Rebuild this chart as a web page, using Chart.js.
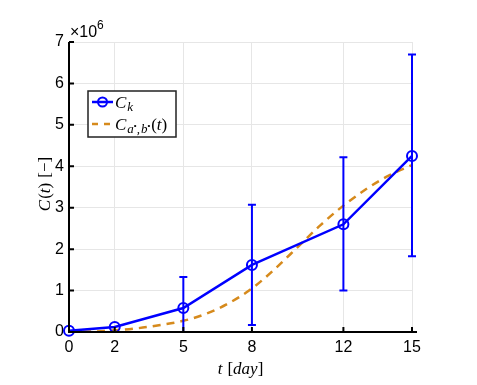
<!DOCTYPE html>
<html>
<head>
<meta charset="utf-8">
<script src="https://cdn.jsdelivr.net/npm/chart.js@4"></script>
<style>
  html, body { margin: 0; padding: 0; background: #fff; }
  #wrap { width: 477px; height: 385px; }
</style>
</head>
<body>
<div id="wrap"><canvas id="c"></canvas></div>
<script>
// measured points (value of C in units of 1e6)
const days = [0, 2, 5, 8, 12, 15];
const meanC = [0.03, 0.12, 0.58, 1.62, 2.60, 4.25];
const errLow = [0.03, 0.12, -0.2, 0.17, 1.00, 1.83];
const errHigh = [0.03, 0.12, 1.33, 3.07, 4.22, 6.70];

// fitted curve
const fitT = [0, 1, 2, 3, 4, 5, 6, 7, 8, 9, 10, 11, 12, 13, 14, 15];
const fitC = [0.0, 0.01, 0.04, 0.09, 0.17, 0.27, 0.44, 0.70, 1.05, 1.52, 2.05, 2.58, 3.05, 3.45, 3.78, 4.03];

const xTicks = [0, 2, 5, 8, 12, 15];
const yTicks = [0, 1, 2, 3, 4, 5, 6, 7];

const BLUE = '#0000ff';
const ORANGE = '#d68a1c';

// draws a list of [text, font, dy, extraGap] pieces one after another
function drawRuns(ctx, runs, x, y) {
  let cx = x;
  runs.forEach(r => {
    ctx.font = r[1];
    ctx.fillText(r[0], cx, y + (r[2] || 0));
    cx += ctx.measureText(r[0]).width + (r[3] || 0);
  });
  return cx;
}
function runsWidth(ctx, runs) {
  let w = 0;
  runs.forEach(r => { ctx.font = r[1]; w += ctx.measureText(r[0]).width + (r[3] || 0); });
  return w;
}

const SERIF_I = 'italic 17px "Liberation Serif"';
const SERIF = '17px "Liberation Serif"';

const extras = {
  id: 'extras',
  afterDatasetsDraw(chart) {
    const ctx = chart.ctx;
    const xs = chart.scales.x, ys = chart.scales.y, a = chart.chartArea;
    // error bars
    ctx.save();
    ctx.beginPath();
    ctx.rect(a.left, a.top - 5, a.right - a.left + 5, a.bottom - a.top + 5);
    ctx.clip();
    ctx.strokeStyle = BLUE;
    ctx.lineWidth = 2;
    days.forEach((d, i) => {
      if (errHigh[i] - errLow[i] < 0.1) return;
      const px = xs.getPixelForValue(d);
      const y1 = ys.getPixelForValue(errLow[i]);
      const y2 = ys.getPixelForValue(errHigh[i]);
      ctx.beginPath();
      ctx.moveTo(px, y1); ctx.lineTo(px, y2);
      ctx.moveTo(px - 4, y1); ctx.lineTo(px + 4, y1);
      ctx.moveTo(px - 4, y2); ctx.lineTo(px + 4, y2);
      ctx.stroke();
    });
    ctx.restore();
  },
  afterDraw(chart) {
    const ctx = chart.ctx;
    const xs = chart.scales.x, ys = chart.scales.y, a = chart.chartArea;
    ctx.save();
    // axis lines and inward ticks
    ctx.strokeStyle = '#000';
    ctx.lineWidth = 2;
    ctx.beginPath();
    ctx.moveTo(a.left, a.top); ctx.lineTo(a.left, a.bottom);
    ctx.lineTo(a.right + 5, a.bottom);
    xTicks.forEach(t => {
      const px = xs.getPixelForValue(t);
      ctx.moveTo(px, a.bottom); ctx.lineTo(px, a.bottom - 5);
    });
    yTicks.forEach(t => {
      const py = ys.getPixelForValue(t);
      ctx.moveTo(a.left, py); ctx.lineTo(a.left + 5, py);
    });
    ctx.stroke();

    ctx.fillStyle = '#000';
    ctx.textBaseline = 'alphabetic';
    // exponent label
    ctx.font = '16px "Liberation Sans"';
    ctx.fillText('\u00d710', a.left + 1, a.top - 5);
    ctx.font = '12px "Liberation Sans"';
    ctx.fillText('6', a.left + 28, a.top - 13);

    // x title: t [day]
    const xt = [['t', SERIF_I, 0, 5], ['[', SERIF], ['day', SERIF_I], [']', SERIF]];
    const cxm = (a.left + a.right) / 2;
    drawRuns(ctx, xt, cxm - runsWidth(ctx, xt) / 2, 374);

    // y title: C(t) [-]
    const yt = [['C', SERIF_I, 0, 1], ['(', SERIF], ['t', SERIF_I], [')', SERIF, 0, 5], ['[', SERIF], ['\u2212', SERIF], [']', SERIF]];
    ctx.save();
    ctx.translate(50, (a.top + a.bottom) / 2 - 3);
    ctx.rotate(-Math.PI / 2);
    drawRuns(ctx, yt, -runsWidth(ctx, yt) / 2, 0);
    ctx.restore();

    // legend box
    const bx = 88, by = 91, bw = 88, bh = 46;
    ctx.fillStyle = '#fff';
    ctx.fillRect(bx, by, bw, bh);
    ctx.strokeStyle = '#222';
    ctx.lineWidth = 1.5;
    ctx.strokeRect(bx, by, bw, bh);
    // entry 1
    const y1 = by + 11;
    ctx.strokeStyle = BLUE; ctx.lineWidth = 2.5;
    ctx.beginPath(); ctx.moveTo(bx + 4, y1); ctx.lineTo(bx + 25, y1); ctx.stroke();
    ctx.lineWidth = 2;
    ctx.beginPath(); ctx.arc(bx + 14.5, y1, 4.5, 0, Math.PI * 2); ctx.stroke();
    ctx.fillStyle = '#000';
    drawRuns(ctx, [['C', SERIF_I, 0, 1], ['k', 'italic 13px "Liberation Serif"', 3]], bx + 27, y1 + 6);
    // entry 2
    const y2 = by + 33;
    ctx.strokeStyle = ORANGE; ctx.lineWidth = 2.5;
    ctx.setLineDash([6, 6]);
    ctx.beginPath(); ctx.moveTo(bx + 4, y2); ctx.lineTo(bx + 25, y2); ctx.stroke();
    ctx.setLineDash([]);
    const sub = 'italic 13px "Liberation Serif"';
    const sup = '8px "Liberation Sans"';
    drawRuns(ctx, [
      ['C', SERIF_I, 0, 1], ['a', sub, 3], ['\u2022', sup, -2], [',', sub, 3, 1], ['b', sub, 3], ['\u2022', sup, -2, 1],
      ['(', SERIF], ['t', SERIF_I], [')', SERIF]
    ], bx + 27, y2 + 6);
    ctx.restore();
  }
};

new Chart(document.getElementById('c'), {
  type: 'line',
  data: {
    datasets: [
      {
        label: 'fit',
        data: fitT.map((t, i) => ({ x: t, y: fitC[i] })),
        borderColor: ORANGE,
        borderWidth: 2.5,
        borderDash: [8, 6],
        pointRadius: 0,
        cubicInterpolationMode: 'monotone',
        fill: false,
        order: 2
      },
      {
        label: 'Ck',
        data: days.map((d, i) => ({ x: d, y: meanC[i] })),
        borderColor: BLUE,
        borderWidth: 2.5,
        pointRadius: 5,
        pointBorderWidth: 2,
        pointBorderColor: BLUE,
        pointBackgroundColor: 'rgba(0,0,0,0)',
        tension: 0,
        fill: false,
        clip: false,
        order: 1
      }
    ]
  },
  options: {
    responsive: true,
    maintainAspectRatio: false,
    animation: false,
    events: [],
    layout: { padding: { top: 42, right: 65, left: 0, bottom: 0 } },
    plugins: { legend: { display: false }, tooltip: { enabled: false } },
    scales: {
      x: {
        type: 'linear',
        min: 0, max: 15,
        afterBuildTicks: s => { s.ticks = xTicks.map(v => ({ value: v })); },
        afterFit: s => { s.height = 53; },
        grid: { color: '#e6e6e6', lineWidth: 1, drawTicks: false },
        border: { display: false },
        ticks: {
          color: '#000', padding: 6,
          font: { family: '"Liberation Sans"', size: 16 },
          maxRotation: 0, autoSkip: false
        }
      },
      y: {
        min: 0, max: 7,
        afterBuildTicks: s => { s.ticks = yTicks.map(v => ({ value: v })); },
        afterFit: s => { s.width = 69; },
        grid: { color: '#e6e6e6', lineWidth: 1, drawTicks: false },
        border: { display: false },
        ticks: {
          color: '#000', padding: 5,
          font: { family: '"Liberation Sans"', size: 16 }
        }
      }
    }
  },
  plugins: [extras]
});
</script>
</body>
</html>
